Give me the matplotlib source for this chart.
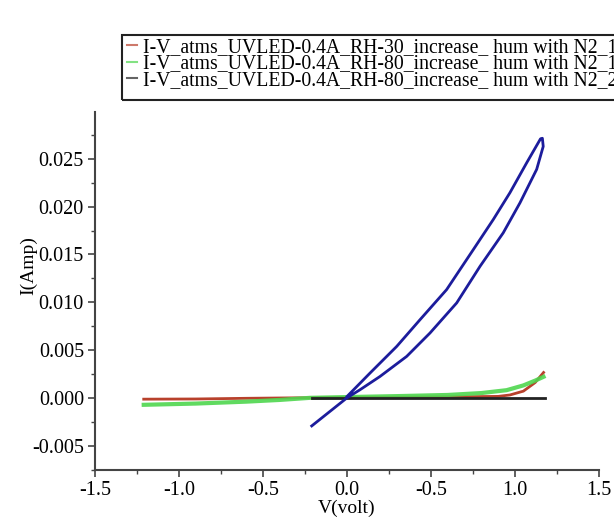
import matplotlib
matplotlib.use("Agg")
import matplotlib.pyplot as plt
from matplotlib.patches import Rectangle
from matplotlib.ticker import MultipleLocator, FixedLocator, FixedFormatter

plt.rcParams['font.family'] = ['Liberation Serif', 'DejaVu Serif']

# RH-30, N2_1 (red)
v_rh30 = [-1.21, -0.9, -0.6, -0.3, 0.0, 0.3, 0.6, 0.9, 0.97, 1.05, 1.12, 1.17]
i_rh30 = [-0.00014, -0.00012, -0.00005, 0.0, 0.00003, 0.00006, 0.0001, 0.00015,
          0.0003, 0.0007, 0.0016, 0.00265]

# RH-80, N2_1 (green)
v_rh80 = [-1.21, -0.9, -0.6, -0.4, -0.22, 0.0, 0.3, 0.6, 0.8, 0.95, 1.05, 1.12, 1.17]
i_rh80 = [-0.00073, -0.0006, -0.0004, -0.00022, 0.0, 0.00008, 0.00018, 0.0003,
          0.0005, 0.0008, 0.0013, 0.0018, 0.0022]

# RH-80, N2_2 (black)
v_n2_2 = [-0.21, 0.0, 0.5, 1.0, 1.18]
i_n2_2 = [0.0, 0.0, 0.0, 0.0, 0.0]

# UV loop (blue)
v_loop = [-0.21, -0.10, 0.0, 0.077, 0.196, 0.355, 0.494, 0.653, 0.792, 0.930,
          1.030, 1.129, 1.168, 1.163, 1.152, 1.07, 0.97, 0.871, 0.752, 0.593,
          0.435, 0.296, 0.137, 0.0]
i_loop = [-0.00294, -0.0014, 0.0, 0.00084, 0.00223, 0.00433, 0.00678, 0.00993,
          0.01376, 0.01726, 0.02041, 0.0239, 0.0263, 0.02715, 0.0271, 0.0246,
          0.02146, 0.01866, 0.01551, 0.01132, 0.00818, 0.00538, 0.00259, 0.00014]

labels = ["I-V_atms_UVLED-0.4A_RH-30_increase_ hum with N2_1",
          "I-V_atms_UVLED-0.4A_RH-80_increase_ hum with N2_1",
          "I-V_atms_UVLED-0.4A_RH-80_increase_ hum with N2_2"]
xtick_vals = [-1.5, -1.0, -0.5, 0.0, 0.5, 1.0, 1.5]
xtick_text = ["-1.5", "-1.0", "-0.5", "0.0", "-0.5", "1.0", "1.5"]

W, H = 614, 520
fig = plt.figure(figsize=(6.14, 5.2), dpi=100)
ax = fig.add_axes([95 / W, 50 / H, 504 / W, 358 / H])

l1, = ax.plot(v_rh30, i_rh30, color="#b8412c", lw=2)
l2, = ax.plot(v_rh80, i_rh80, color="#4fd64f", lw=3, alpha=0.9)
l3, = ax.plot(v_n2_2, i_n2_2, color="#222222", lw=2)
ax.plot(v_loop, i_loop, color="#1c1c9c", lw=2)

ax.set_xlim(-1.5, 1.5)
ax.set_ylim(-0.00755, 0.0299)

for s in ["top", "right"]:
    ax.spines[s].set_visible(False)
for s in ["left", "bottom"]:
    ax.spines[s].set_linewidth(1.5)
    ax.spines[s].set_color("#444444")

ax.xaxis.set_major_locator(FixedLocator(xtick_vals))
ax.xaxis.set_major_formatter(FixedFormatter(xtick_text))
ax.xaxis.set_minor_locator(MultipleLocator(0.25))
ax.yaxis.set_major_locator(FixedLocator([-0.005, 0.0, 0.005, 0.01, 0.015, 0.02, 0.025]))
ax.yaxis.set_minor_locator(MultipleLocator(0.0025))
ax.yaxis.set_major_formatter(plt.FuncFormatter(lambda v, p: "%.3f" % v))
ax.tick_params(which="major", direction="out", length=5, width=1.2,
               color="#444444", labelsize=14.5, pad=3)
ax.tick_params(which="minor", direction="out", length=3, width=1.0, color="#444444")

ax.set_xlabel("V(volt)", fontsize=14)
ax.set_ylabel("I(Amp)", fontsize=14)
ax.xaxis.set_label_coords(0.5, -0.082)
ax.yaxis.set_label_coords(-0.114, 0.57)

# legend frame, cut by the right edge of the figure
fig.patches.append(Rectangle((122 / W, 1 - 100 / H), 520 / W, 65 / H,
                             transform=fig.transFigure, fill=False,
                             edgecolor="#222222", lw=1.5))
leg = fig.legend([l1, l2, l3], labels, loc="upper left",
                 bbox_to_anchor=(127 / W, 1 - 38 / H), fontsize=14.2,
                 frameon=False, handlelength=0.5, handletextpad=0.3,
                 labelspacing=-0.13, borderpad=0, borderaxespad=0)
for h in leg.get_lines():
    h.set_linewidth(1.5)
    h.set_alpha(0.7)

fig.savefig("out.png", dpi=100)
